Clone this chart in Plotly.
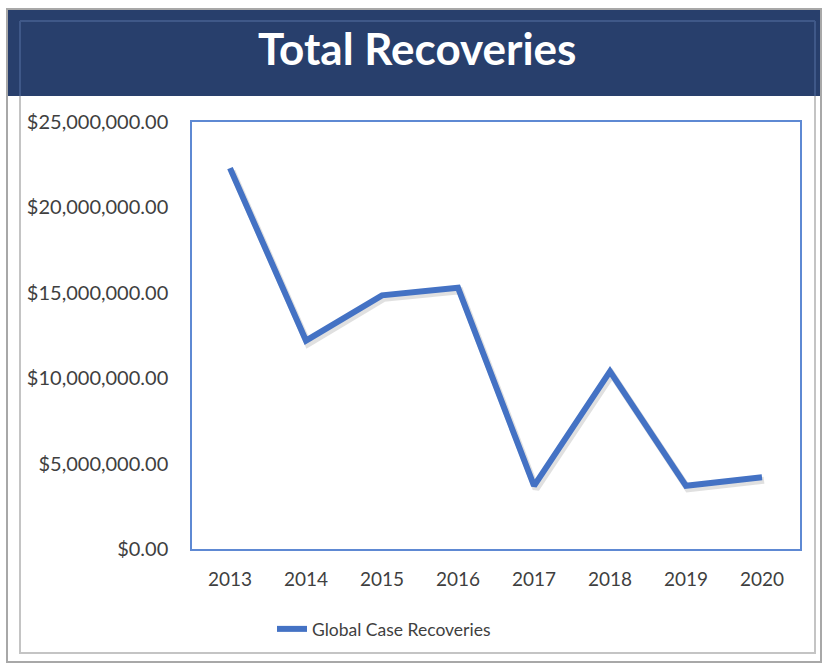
import plotly.graph_objects as go

# Yearly recovery totals
years = ["2013", "2014", "2015", "2016", "2017", "2018", "2019", "2020"]
recoveries = [22300000, 12200000, 14850000, 15300000, 3700000, 10400000, 3700000, 4200000]
series_name = "Global Case Recoveries"
chart_title = "Total Recoveries"

W, H = 828, 667
# overall paper frame (margins)
ML, MR, MT, MB = 188, 18, 118, 108
area_w = W - ML - MR
area_h = H - MT - MB

def px_x(px):
    return (px - ML) / area_w

def px_y(py):
    return (H - MB - py) / area_h

# plot rectangle in pixels
PL, PR, PT, PB = 192, 800, 122, 549
SHX, SHY = 2, 3  # drop-shadow offset

line_color = "#4472C4"
font_family = "Lato, 'Open Sans', sans-serif"
tick_color = "#3F3F3F"

fig = go.Figure()

# soft shadow beneath the line
fig.add_trace(go.Scatter(
    x=years, y=recoveries, mode="lines",
    line=dict(color="rgba(60,60,60,0.16)", width=7),
    xaxis="x", yaxis="y", showlegend=False, hoverinfo="skip",
))
# main series
fig.add_trace(go.Scatter(
    x=years, y=recoveries, mode="lines", name=series_name,
    line=dict(color=line_color, width=6),
    xaxis="x2", yaxis="y2",
))

yrange = [0, 25000000]
xrange = [-0.5, len(years) - 0.5]

fig.update_layout(
    width=W, height=H,
    margin=dict(l=ML, r=MR, t=MT, b=MB),
    paper_bgcolor="white", plot_bgcolor="rgba(0,0,0,0)",
    font=dict(family=font_family, color=tick_color, size=17),
    showlegend=True,
    legend=dict(
        x=px_x(272), y=px_y(611), xanchor="left", yanchor="top",
        orientation="h", font=dict(size=17.5, color=tick_color),
        bgcolor="rgba(0,0,0,0)", itemwidth=30,
    ),
    xaxis=dict(
        domain=[px_x(PL + SHX), px_x(PR + SHX)],
        anchor="y", type="category", range=xrange, showticklabels=False,
        showgrid=False, zeroline=False, showline=False,
    ),
    yaxis=dict(
        domain=[px_y(PB + SHY), px_y(PT + SHY)],
        anchor="x", range=yrange, showticklabels=False,
        showgrid=False, zeroline=False, showline=False,
    ),
    xaxis2=dict(
        domain=[px_x(PL), px_x(PR)], anchor="y2", type="category", range=xrange,
        showgrid=False, zeroline=False,
        showline=True, mirror=True, linecolor="#5E89D3", linewidth=1.5,
        ticks="", ticklabelstandoff=12,
        tickfont=dict(size=19, color=tick_color),
    ),
    yaxis2=dict(
        domain=[px_y(PB), px_y(PT)], anchor="x2", range=yrange,
        dtick=5000000, tickprefix="$", tickformat=",.2f",
        showgrid=False, zeroline=False,
        showline=True, mirror=True, linecolor="#5E89D3", linewidth=1.5,
        ticks="", ticklabelstandoff=18,
        tickfont=dict(size=20, color=tick_color),
    ),
)

shapes = []
# outer frame
shapes.append(dict(type="rect", xref="paper", yref="paper",
                   x0=px_x(7), x1=px_x(821), y0=px_y(662), y1=px_y(9),
                   line=dict(color="#A8A8A8", width=2), fillcolor="rgba(0,0,0,0)", layer="below"))
# inner frame
shapes.append(dict(type="rect", xref="paper", yref="paper",
                   x0=px_x(20), x1=px_x(815), y0=px_y(653), y1=px_y(95),
                   line=dict(color="#C4C4C4", width=2), fillcolor="rgba(0,0,0,0)", layer="below"))
# title banner
shapes.append(dict(type="rect", xref="paper", yref="paper",
                   x0=px_x(8), x1=px_x(820), y0=px_y(96), y1=px_y(10),
                   line=dict(width=0), fillcolor="#283F6C", layer="below"))
# bevel highlight inside the banner
for (a, b, c, d) in [(20, 21, 815, 21), (20, 21, 20, 96), (815, 21, 815, 96)]:
    shapes.append(dict(type="line", xref="paper", yref="paper",
                       x0=px_x(a), y0=px_y(b), x1=px_x(c), y1=px_y(d),
                       line=dict(color="#3F5888", width=2), layer="below"))
fig.update_layout(shapes=shapes)

fig.add_annotation(
    text="<b>" + chart_title + "</b>", xref="paper", yref="paper",
    x=px_x(417), y=px_y(48), xanchor="center", yanchor="middle",
    showarrow=False, font=dict(family=font_family, size=44, color="white"),
)

fig.write_html("out.html")
